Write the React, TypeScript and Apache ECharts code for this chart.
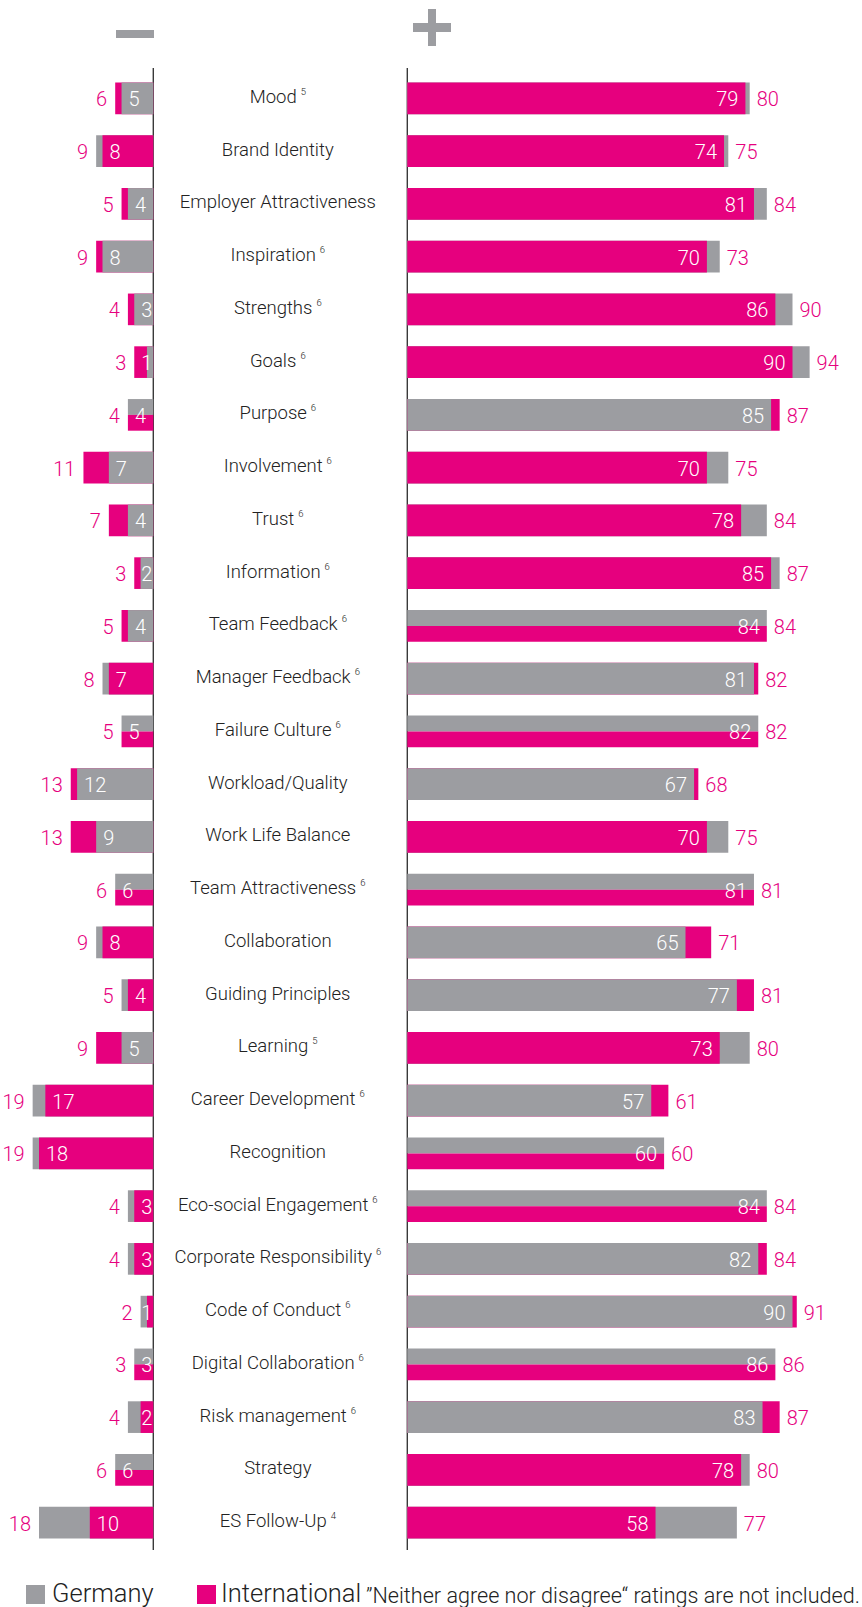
import React, { useEffect, useRef } from "react";
import * as echarts from "echarts";

const categories = [
  "Mood", "Brand Identity", "Employer Attractiveness", "Inspiration", "Strengths", "Goals",
  "Purpose", "Involvement", "Trust", "Information", "Team Feedback", "Manager Feedback",
  "Failure Culture", "Workload/Quality", "Work Life Balance", "Team Attractiveness",
  "Collaboration", "Guiding Principles", "Learning", "Career Development", "Recognition",
  "Eco-social Engagement", "Corporate Responsibility", "Code of Conduct",
  "Digital Collaboration", "Risk management", "Strategy", "ES Follow-Up",
];
const footnotes = [
  "5", "", "", "6", "6", "6", "6", "6", "6", "6", "6", "6", "6", "", "", "6",
  "", "", "5", "6", "", "6", "6", "6", "6", "6", "", "4",
];
// Negative ratings (%)
const negGermany = [5, 9, 4, 8, 3, 1, 4, 7, 4, 2, 4, 8, 5, 12, 9, 6, 9, 5, 5, 19, 19, 4, 4, 2, 3, 4, 6, 18];
const negInternational = [6, 8, 5, 9, 4, 3, 4, 11, 7, 3, 5, 7, 5, 13, 13, 6, 8, 4, 9, 17, 18, 3, 3, 1, 3, 2, 6, 10];
// Positive ratings (%)
const posGermany = [80, 75, 84, 73, 90, 94, 85, 75, 84, 87, 84, 81, 82, 67, 75, 81, 65, 77, 80, 57, 60, 84, 82, 90, 86, 83, 80, 77];
const posInternational = [79, 74, 81, 70, 86, 90, 87, 70, 78, 85, 84, 82, 82, 68, 70, 81, 71, 81, 73, 61, 60, 84, 84, 91, 86, 87, 78, 58];

const legendNames = ["Germany", "International"];
const noteText = "\u201DNeither agree nor disagree\u201C ratings are not included.";

const GRAY = "#9C9DA1";
const MAGENTA = "#E6007E";
const TEXT = "#222222";
const FONT = "Roboto, 'Noto Sans', sans-serif";

function makeRender(side: "neg" | "pos") {
  return function (params: any, api: any) {
    const i = api.value(0);
    const de = api.value(1);
    const intl = api.value(2);
    const base = api.coord([0, i]);
    const pDe = api.coord([de, i]);
    const pIn = api.coord([intl, i]);
    const band = api.size([0, 1])[1];
    const h = band * 0.6;
    const yc = base[1];
    const top = yc - h / 2;
    const x0 = base[0];
    const rectFor = (x1: number, y: number, hh: number, color: string) => ({
      type: "rect",
      shape: { x: Math.min(x0, x1), y, width: Math.abs(x1 - x0), height: hh },
      style: { fill: color },
    });
    const children: any[] = [];
    const big = Math.max(de, intl);
    const small = Math.min(de, intl);
    const xBig = de >= intl ? pDe[0] : pIn[0];
    const xSmall = de >= intl ? pIn[0] : pDe[0];
    if (de === intl) {
      children.push(rectFor(pDe[0], top, h / 2, GRAY));
      children.push(rectFor(pIn[0], top + h / 2, h / 2, MAGENTA));
    } else {
      children.push(rectFor(xBig, top, h, de > intl ? GRAY : MAGENTA));
      children.push(rectFor(xSmall, top, h, de > intl ? MAGENTA : GRAY));
    }
    const xi = side === "pos" ? xSmall - 7 : Math.min(xSmall + 7, x0 - 12);
    children.push({
      type: "text",
      style: {
        text: String(small), x: xi, y: yc + 1,
        align: side === "pos" ? "right" : "left", verticalAlign: "middle",
        fill: "#ffffff", fontSize: 20, fontFamily: FONT, fontWeight: 300,
      },
    });
    const xo = side === "pos" ? xBig + 7 : xBig - 8;
    children.push({
      type: "text",
      style: {
        text: String(big), x: xo, y: yc + 1,
        align: side === "pos" ? "left" : "right", verticalAlign: "middle",
        fill: MAGENTA, fontSize: 20, fontFamily: FONT, fontWeight: 300,
      },
    });
    return { type: "group", children };
  };
}

export default function App() {
  const ref = useRef<HTMLDivElement>(null);
  useEffect(() => {
    if (!ref.current) return;
    const chart = echarts.init(ref.current, undefined, { renderer: "svg" });
    const negData = categories.map((_, i) => [i, negGermany[i], negInternational[i]]);
    const posData = categories.map((_, i) => [i, posGermany[i], posInternational[i]]);
    const gridTop = 72;
    const gridHeight = 1477;
    const option: any = {
      animation: false,
      backgroundColor: "#ffffff",
      grid: [
        { left: 26.3, top: gridTop, width: 127, height: gridHeight },
        { left: 407.3, top: gridTop, width: 428, height: gridHeight },
      ],
      xAxis: [
        { gridIndex: 0, type: "value", inverse: true, min: 0, max: 20, show: false },
        { gridIndex: 1, type: "value", min: 0, max: 100, show: false },
      ],
      yAxis: [
        {
          gridIndex: 0, type: "category", data: categories, inverse: true, position: "right",
          axisLine: { show: false },
          axisTick: { show: false }, axisLabel: { show: false }, splitLine: { show: false },
        },
        {
          gridIndex: 1, type: "category", data: categories, inverse: true, position: "left",
          axisLine: { show: false },
          axisTick: { show: false }, splitLine: { show: false },
          axisLabel: {
            margin: 129.5,
            align: "center",
            formatter: (v: string, idx: number) =>
              footnotes[idx] ? `{n|${v}}{s|${footnotes[idx]}}` : `{n|${v}}`,
            rich: {
              n: { fontSize: 18.5, fontFamily: FONT, fontWeight: 300, color: TEXT, lineHeight: 24, verticalAlign: "middle", padding: [0, 0, 3, 0] },
              s: { fontSize: 9.5, fontFamily: FONT, fontWeight: 300, color: TEXT, lineHeight: 18, verticalAlign: "top", padding: [0, 0, 0, 4] },
            },
          },
        },
      ],
      series: [
        {
          type: "custom", name: "negative", coordinateSystem: "cartesian2d",
          xAxisIndex: 0, yAxisIndex: 0, encode: { x: [1, 2], y: 0 },
          renderItem: makeRender("neg"), data: negData,
        },
        {
          type: "custom", name: "positive", coordinateSystem: "cartesian2d",
          xAxisIndex: 1, yAxisIndex: 1, encode: { x: [1, 2], y: 0 },
          renderItem: makeRender("pos"), data: posData,
        },
      ],
      graphic: [
        { type: "line", shape: { x1: 153.3, y1: 68, x2: 153.3, y2: 1550 }, style: { stroke: "#3a3a3a", lineWidth: 1.4 } },
        { type: "line", shape: { x1: 407.3, y1: 68, x2: 407.3, y2: 1550 }, style: { stroke: "#3a3a3a", lineWidth: 1.4 } },
        { type: "rect", shape: { x: 116, y: 30, width: 38, height: 8 }, style: { fill: GRAY } },
        { type: "rect", shape: { x: 428, y: 9, width: 8, height: 37 }, style: { fill: GRAY } },
        { type: "rect", shape: { x: 413, y: 23, width: 38, height: 9 }, style: { fill: GRAY } },
        { type: "rect", shape: { x: 26, y: 1585, width: 19, height: 19 }, style: { fill: GRAY } },
        {
          type: "text", x: 52, y: 1593,
          style: { text: legendNames[0], fontSize: 25.5, fontFamily: FONT, fontWeight: 300, fill: TEXT, verticalAlign: "middle" },
        },
        { type: "rect", shape: { x: 197, y: 1585, width: 19, height: 19 }, style: { fill: MAGENTA } },
        {
          type: "text", x: 221, y: 1593,
          style: { text: legendNames[1], fontSize: 25.5, fontFamily: FONT, fontWeight: 300, fill: TEXT, verticalAlign: "middle" },
        },
        {
          type: "text", x: 366, y: 1595,
          style: { text: noteText, fontSize: 21.6, fontFamily: FONT, fontWeight: 300, fill: TEXT, verticalAlign: "middle" },
        },
      ],
    };
    chart.setOption(option);
    return () => chart.dispose();
  }, []);
  return (
    <div
      ref={ref}
      style={{ position: "absolute", left: 0, top: 0, width: 862, height: 1607, background: "#fff" }}
    />
  );
}
